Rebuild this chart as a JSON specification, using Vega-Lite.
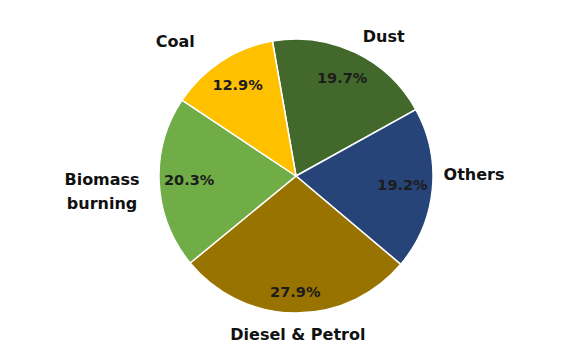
{
  "$schema": "https://vega.github.io/schema/vega-lite/v6.json",
  "width": 566,
  "height": 352,
  "autosize": {"type": "none"},
  "padding": {"left": 13, "top": 0, "right": 0, "bottom": 8},
  "background": "white",
  "view": {"stroke": null},
  "data": {
    "values": [
      {"name": "Dust", "value": 0.197},
      {"name": "Others", "value": 0.192},
      {"name": "Diesel & Petrol", "value": 0.279},
      {"name": "Biomass\nburning", "value": 0.203},
      {"name": "Coal", "value": 0.129}
    ]
  },
  "transform": [
    {"window": [{"op": "row_number", "as": "idx"}]}
  ],
  "encoding": {
    "theta": {"field": "value", "type": "quantitative", "stack": true, "scale": {"range": [-0.1728, 6.1104]}},
    "order": {"field": "idx", "type": "quantitative"}
  },
  "layer": [
    {
      "mark": {"type": "arc", "outerRadius": 137, "stroke": "white", "strokeWidth": 1.5},
      "encoding": {
        "color": {
          "field": "name",
          "type": "nominal",
          "legend": null,
          "scale": {
            "domain": ["Dust", "Others", "Diesel & Petrol", "Biomass\nburning", "Coal"],
            "range": ["#43682B", "#264478", "#997300", "#70AD47", "#FFC000"]
          }
        }
      }
    },
    {
      "mark": {
        "type": "text",
        "radius": {"expr": "datum.name === 'Diesel & Petrol' ? 117 : 107"},
        "font": "DejaVu Sans",
        "fontWeight": "bold",
        "fontSize": 14.5,
        "color": "#1c1c1c",
        "align": "center",
        "baseline": "middle"
      },
      "encoding": {
        "text": {"field": "value", "type": "quantitative", "format": ".1%"}
      }
    },
    {
      "mark": {
        "type": "text",
        "radius": {"expr": "datum.name === 'Coal' ? 180 : datum.name === 'Dust' ? 164 : datum.name === 'Others' ? 178 : datum.name === 'Diesel & Petrol' ? 159 : 194"},
        "thetaOffset": {"expr": "datum.name === 'Coal' ? -0.157 : datum.name === 'Dust' ? 0.118 : datum.name === 'Others' ? -0.103 : datum.name === 'Diesel & Petrol' ? -0.018 : 0.029"},
        "font": "DejaVu Sans",
        "fontWeight": "bold",
        "fontSize": 16,
        "lineBreak": "\n",
        "lineHeight": 24,
        "color": "#111111",
        "align": "center",
        "baseline": "middle"
      },
      "encoding": {
        "text": {"field": "name", "type": "nominal"}
      }
    }
  ]
}
